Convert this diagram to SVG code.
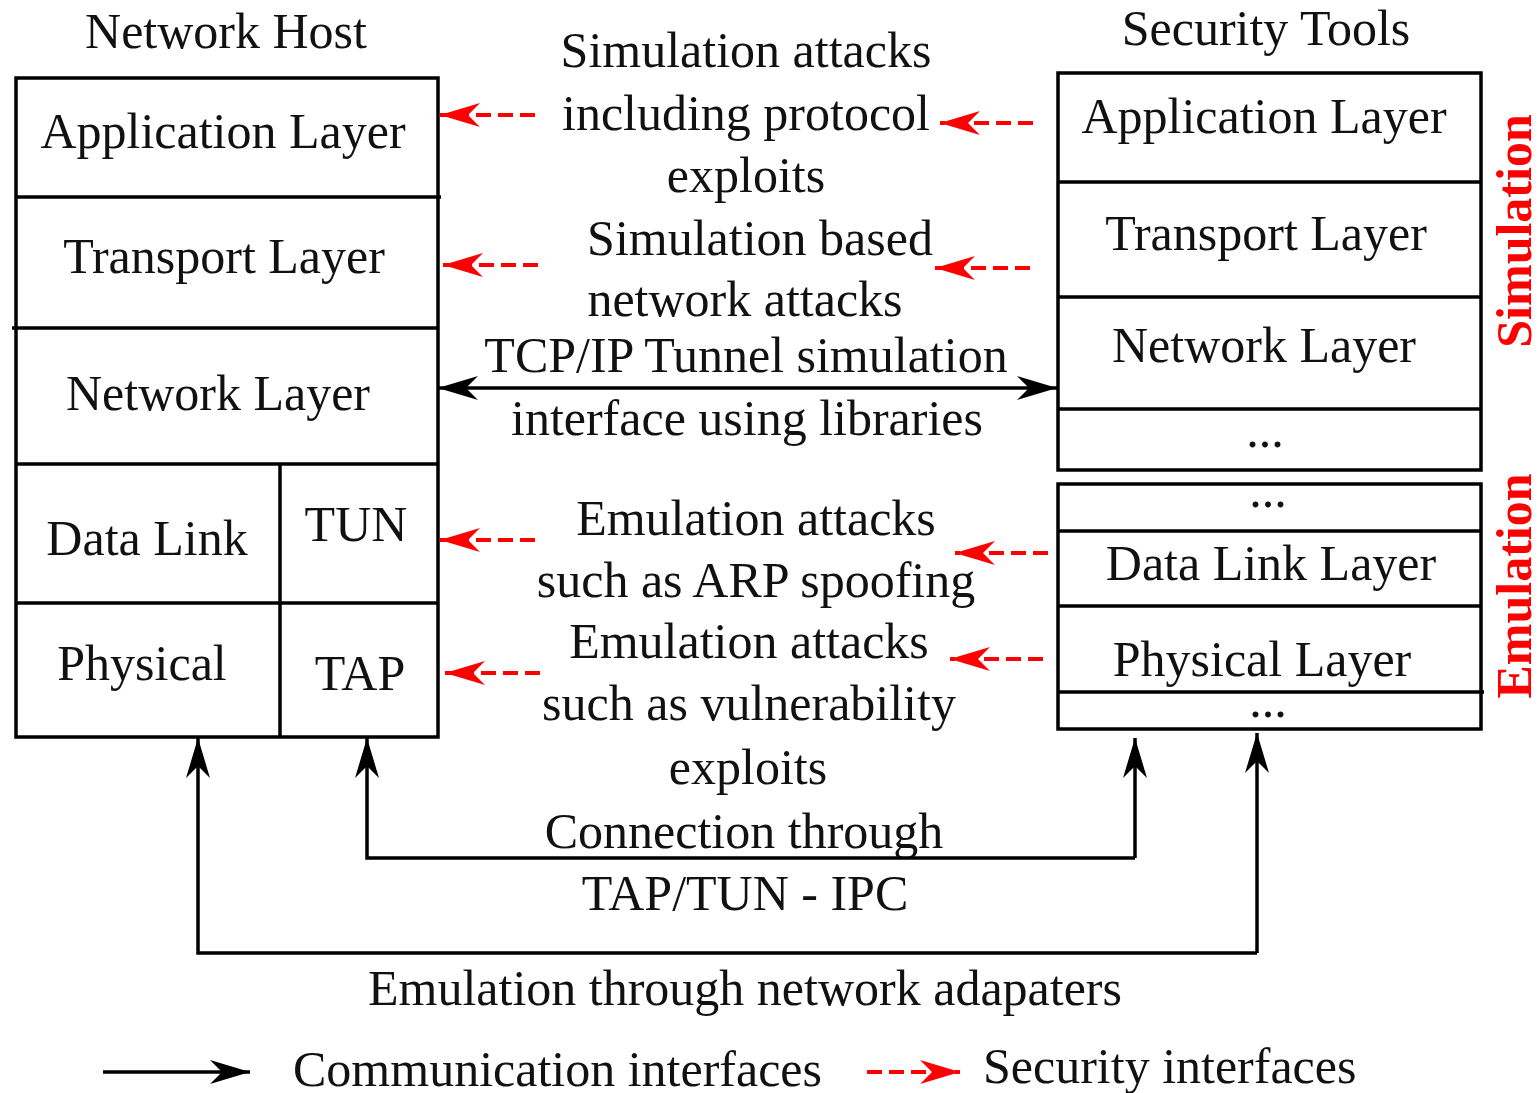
<svg xmlns="http://www.w3.org/2000/svg" width="1538" height="1093" viewBox="0 0 1538 1093">
  <style>
    text { font-family: "Liberation Serif", "Times New Roman", serif; font-size: 50px; fill: #111; }
    .mid { text-anchor: middle; }
    .side { font-weight: bold; fill: #ff0000; text-anchor: middle; font-size: 50px; }
    .box { fill: none; stroke: #000; stroke-width: 3.5; }
    .ln { stroke: #000; stroke-width: 3.5; fill: none; }
    .comm { stroke: #000; stroke-width: 3.5; fill: none; marker-end: url(#blackHead); }
    .sec { stroke: #ff0000; stroke-width: 4; fill: none; stroke-dasharray: 15 7; marker-end: url(#redHead); }
  </style>
  <defs>
    <marker id="blackHead" viewBox="0 0 40 24" refX="40" refY="12" markerWidth="40" markerHeight="24" markerUnits="userSpaceOnUse" orient="auto-start-reverse">
      <path d="M40,12 L0,0 L12,12 L0,24 Z" fill="#000"/>
    </marker>
    <marker id="redHead" viewBox="0 0 40 24" refX="40" refY="12" markerWidth="40" markerHeight="24" markerUnits="userSpaceOnUse" orient="auto">
      <path d="M40,12 L0,0 L12,12 L0,24 Z" fill="#ff0000"/>
    </marker>
  </defs>
  <rect width="1538" height="1093" fill="#fff"/>

  <!-- Network host stack -->
  <g id="network-host">
    <text class="mid" x="226" y="48">Network Host</text>
    <rect class="box" x="16" y="78" width="422" height="659"/>
    <line class="ln" x1="16" y1="197" x2="441" y2="197"/>
    <line class="ln" x1="12" y1="328" x2="438" y2="328"/>
    <line class="ln" x1="16" y1="464" x2="438" y2="464"/>
    <line class="ln" x1="16" y1="603" x2="438" y2="603"/>
    <line class="ln" x1="280" y1="464" x2="280" y2="737"/>
    <text class="mid" x="223" y="148">Application Layer</text>
    <text class="mid" x="224" y="273">Transport Layer</text>
    <text class="mid" x="218" y="410">Network Layer</text>
    <text class="mid" x="147" y="555">Data Link</text>
    <text class="mid" x="142" y="680">Physical</text>
  </g>
  <g id="tun">
    <text class="mid" x="356" y="541">TUN</text>
  </g>
  <g id="tap">
    <text class="mid" x="360" y="690">TAP</text>
  </g>

  <!-- Security tools stack: simulated layers -->
  <g id="security-tools-simulation">
    <text class="mid" x="1266" y="45">Security Tools</text>
    <rect class="box" x="1058" y="73" width="423" height="397"/>
    <line class="ln" x1="1058" y1="182" x2="1481" y2="182"/>
    <line class="ln" x1="1058" y1="297" x2="1481" y2="297"/>
    <line class="ln" x1="1058" y1="409" x2="1481" y2="409"/>
    <text class="mid" x="1264" y="133">Application Layer</text>
    <text class="mid" x="1266" y="250">Transport Layer</text>
    <text class="mid" x="1264" y="362">Network Layer</text>
    <text class="mid" x="1265" y="447">...</text>
    <text class="side" transform="translate(1531,231) rotate(-90)">Simulation</text>
  </g>

  <!-- Security tools stack: emulated layers -->
  <g id="security-tools-emulation">
    <rect class="box" x="1058" y="484" width="423" height="245"/>
    <line class="ln" x1="1058" y1="531" x2="1481" y2="531"/>
    <line class="ln" x1="1058" y1="606" x2="1481" y2="606"/>
    <line class="ln" x1="1058" y1="692" x2="1484" y2="692"/>
    <text class="mid" x="1268" y="507">...</text>
    <text class="mid" x="1271" y="580">Data Link Layer</text>
    <text class="mid" x="1262" y="676">Physical Layer</text>
    <text class="mid" x="1268" y="717">...</text>
    <text class="side" transform="translate(1531,586) rotate(-90)">Emulation</text>
  </g>

  <!-- Interface descriptions -->
  <g id="labels">
    <text class="mid" x="746" y="67">Simulation attacks</text>
    <text class="mid" x="746" y="130">including protocol</text>
    <text class="mid" x="746" y="192">exploits</text>
    <text class="mid" x="760" y="255">Simulation based</text>
    <text class="mid" x="745" y="316">network attacks</text>
    <text class="mid" x="746" y="372">TCP/IP Tunnel simulation</text>
    <text class="mid" x="747" y="435">interface using libraries</text>
    <text class="mid" x="756" y="535">Emulation attacks</text>
    <text class="mid" x="756" y="597">such as ARP spoofing</text>
    <text class="mid" x="749" y="658">Emulation attacks</text>
    <text class="mid" x="749" y="720">such as vulnerability</text>
    <text class="mid" x="748" y="784">exploits</text>
    <text class="mid" x="744" y="848">Connection through</text>
    <text class="mid" x="745" y="910">TAP/TUN - IPC</text>
    <text class="mid" x="745" y="1005">Emulation through network adapaters</text>
  </g>

  <!-- Connectors -->
  <g id="connectors">
    <line class="sec" x1="535" y1="115" x2="440" y2="115"/>
    <line class="sec" x1="1033" y1="123" x2="940" y2="123"/>
    <line class="sec" x1="538" y1="265" x2="443" y2="265"/>
    <line class="sec" x1="1030" y1="268" x2="935" y2="268"/>
    <line class="comm" x1="438" y1="388" x2="1057" y2="388" marker-start="url(#blackHead)"/>
    <line class="sec" x1="535" y1="540" x2="440" y2="540"/>
    <line class="sec" x1="1048" y1="553" x2="955" y2="553"/>
    <line class="sec" x1="540" y1="673" x2="445" y2="673"/>
    <line class="sec" x1="1043" y1="659" x2="950" y2="659"/>
    <path class="comm" d="M1135,858 L367,858 L367,738"/>
    <line class="comm" x1="1135" y1="858" x2="1135" y2="738"/>
    <path class="comm" d="M1257,953 L198,953 L198,738"/>
    <line class="comm" x1="1257" y1="953" x2="1257" y2="733"/>
  </g>

  <!-- Legend -->
  <g id="legend">
    <line class="comm" x1="103" y1="1072" x2="250" y2="1072"/>
    <text x="293" y="1086">Communication interfaces</text>
    <line class="sec" x1="867" y1="1072" x2="960" y2="1072"/>
    <text x="983" y="1083">Security interfaces</text>
  </g>
</svg>
